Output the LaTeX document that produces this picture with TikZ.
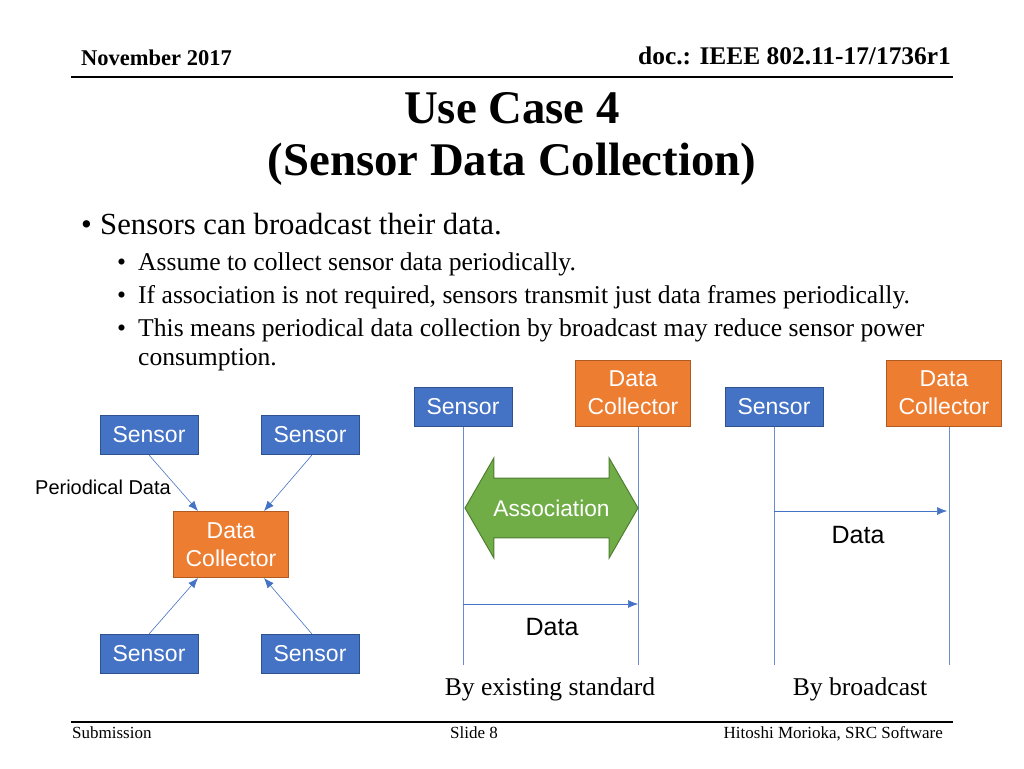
\documentclass[tikz,border=0pt]{standalone}
\usepackage{fontspec}
\setmainfont{Liberation Serif}
\setsansfont{Liberation Sans}
\usetikzlibrary{arrows.meta,shapes.arrows}
\definecolor{sensorblue}{HTML}{4472C4}
\definecolor{sensoredge}{HTML}{2F528F}
\definecolor{collectororange}{HTML}{ED7D31}
\definecolor{collectoredge}{HTML}{AE5A21}
\definecolor{assocgreen}{HTML}{70AD47}
\definecolor{assocedge}{HTML}{507E32}
\tikzset{
  sensorbox/.style={draw=sensoredge,fill=sensorblue,text=white,line width=1pt,
    minimum width=98pt,minimum height=39pt,inner sep=0pt,font=\sffamily\fontsize{23}{27}\selectfont},
  collectorbox/.style={draw=collectoredge,fill=collectororange,text=white,line width=1pt,align=center,
    minimum width=115pt,minimum height=66pt,inner sep=0pt,font=\sffamily\fontsize{23}{28}\selectfont},
  flow/.style={draw=sensorblue,line width=0.6pt,-{Latex[length=10pt,width=8pt]}},
  lifeline/.style={draw=sensorblue!80!white,line width=0.7pt},
  plainlabel/.style={inner sep=0pt,font=\sffamily\fontsize{25}{29}\selectfont},
  bodytext/.style={anchor=base west,inner sep=0pt},
  rulebar/.style={line width=1.2pt,draw=black}
}
\begin{document}
\begin{tikzpicture}[x=1pt,y=-1pt]
\useasboundingbox (0,0) rectangle (1024,768);
\fill[white] (0,0) rectangle (1024,768);
% header
\node[bodytext,font=\bfseries\fontsize{22.5}{26}\selectfont] (month) at (81,65) {November 2017};
\node[anchor=base east,inner sep=0pt,font=\bfseries\fontsize{25.4}{29}\selectfont] (doc) at (951,64) {doc.: IEEE 802.11-17/1736r1};
\coordinate (h1) at (71,77);
\coordinate (h2) at (953,77);
\draw[rulebar] (h1)--(h2);
\node[anchor=base,inner sep=0pt,font=\bfseries\fontsize{46.8}{50}\selectfont] (title1) at (512,123) {Use Case 4};
\node[anchor=base,inner sep=0pt,font=\bfseries\fontsize{46.8}{50}\selectfont] (title2) at (512,175) {(Sensor Data Collection)};
% text
\node[bodytext,font=\fontsize{30.7}{34}\selectfont] (b1) at (81,234) {•};
\node[bodytext,font=\fontsize{30.7}{34}\selectfont] (t1) at (100,234) {Sensors can broadcast their data.};
\node[bodytext,font=\fontsize{25.6}{29}\selectfont] (b2) at (117,270) {•};
\node[bodytext,font=\fontsize{25.6}{29}\selectfont] (t2) at (138,270) {Assume to collect sensor data periodically.};
\node[bodytext,font=\fontsize{25.6}{29}\selectfont] (b3) at (117,303) {•};
\node[bodytext,font=\fontsize{25.6}{29}\selectfont] (t3) at (138,303) {If association is not required, sensors transmit just data frames periodically.};
\node[bodytext,font=\fontsize{25.6}{29}\selectfont] (b4) at (117,336) {•};
\node[bodytext,font=\fontsize{25.6}{29}\selectfont] (t4) at (138,336) {This means periodical data collection by broadcast may reduce sensor power};
\node[bodytext,font=\fontsize{25.6}{29}\selectfont] (t5) at (138,365) {consumption.};
% star
\node[sensorbox] (s1) at (149,435) {Sensor};
\node[sensorbox] (s2) at (310,435) {Sensor};
\node[sensorbox] (s3) at (149,654) {Sensor};
\node[sensorbox] (s4) at (310,654) {Sensor};
\node[collectorbox] (dc) at (231,544.5) {Data\\Collector};
\node[inner sep=0pt,font=\sffamily\fontsize{20}{24}\selectfont] (pd) at (103,487) {Periodical Data};
\path[flow] (s1.south)--([xshift=25pt]dc.north west);
\path[flow] ([xshift=2pt]s2.south)--([xshift=-25pt]dc.north east);
\path[flow] (s3.north)--([xshift=25pt]dc.south west);
\path[flow] ([xshift=2pt]s4.north)--([xshift=-25pt]dc.south east);
% existing standard
\node[sensorbox] (s5) at (463,406.5) {Sensor};
\node[collectorbox] (dc1) at (633,393) {Data\\Collector};
\coordinate (e5) at (463,665);
\coordinate (e6) at (638,665);
\path[lifeline] (s5.south)--(e5);
\path[lifeline] (dc1.south-|e6)--(e6);
\node[double arrow,draw=assocedge,fill=assocgreen,text=white,line width=1pt,inner sep=0pt,
  minimum height=173pt,minimum width=100pt,double arrow head extend=6pt,double arrow tip angle=120,
  font=\sffamily\fontsize{22.7}{27}\selectfont,text width=117pt,align=center] (assoc) at (551.5,508) {Association};
\coordinate (d1) at (463,604);
\coordinate (d2) at (638,604);
\path[flow] (d1)--(d2);
\node[plainlabel] (l1) at (552,627) {Data};
\node[anchor=base,inner sep=0pt,font=\fontsize{25.6}{29}\selectfont] (c1) at (550,695) {By existing standard};
% broadcast
\node[sensorbox] (s6) at (774,406.5) {Sensor};
\node[collectorbox] (dc2) at (944,393) {Data\\Collector};
\coordinate (e7) at (774,665);
\coordinate (e8) at (949,665);
\path[lifeline] (s6.south)--(e7);
\path[lifeline] (dc2.south-|e8)--(e8);
\coordinate (d3) at (774,511);
\coordinate (d4) at (947,511);
\path[flow] (d3)--(d4);
\node[plainlabel] (l2) at (858,535) {Data};
\node[anchor=base,inner sep=0pt,font=\fontsize{25.6}{29}\selectfont] (c2) at (860,695) {By broadcast};
% footer
\coordinate (f1) at (71,722);
\coordinate (f2) at (953,722);
\draw[rulebar] (f1)--(f2);
\node[bodytext,font=\fontsize{17}{20}\selectfont] (sub) at (72,738) {Submission};
\node[bodytext,font=\fontsize{17}{20}\selectfont] (slide) at (450,738) {Slide 8};
\node[anchor=base east,inner sep=0pt,font=\fontsize{17}{20}\selectfont] (auth) at (943,738) {Hitoshi Morioka, SRC Software};
\end{tikzpicture}
\end{document}
